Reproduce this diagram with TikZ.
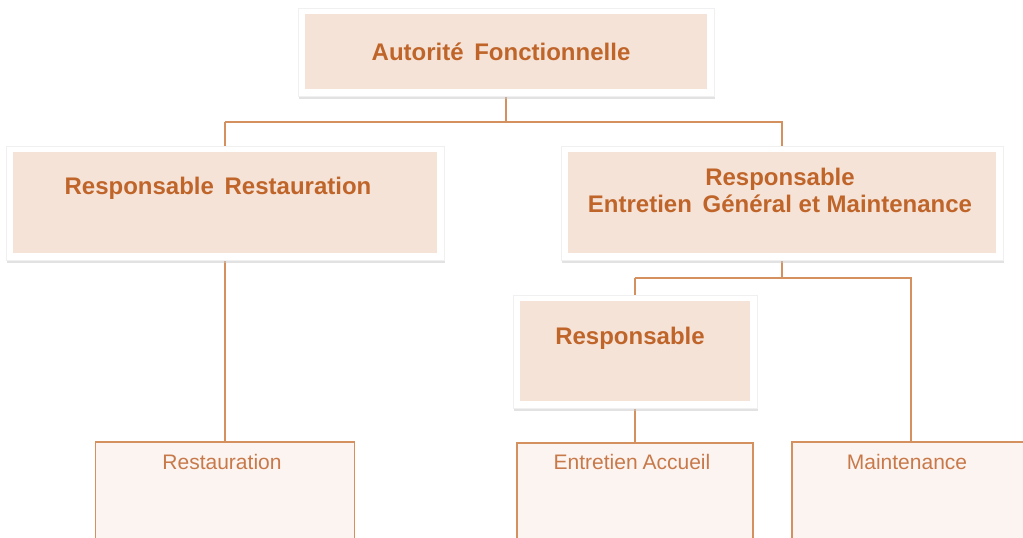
\documentclass[tikz,border=0pt]{standalone}
\usepackage{fontspec}
\setmainfont{Liberation Sans}
\usetikzlibrary{shadows,backgrounds}
\definecolor{txt}{HTML}{C0652A}
\definecolor{txtlight}{HTML}{C8794A}
\definecolor{peach}{HTML}{F5E3D8}
\definecolor{pale}{HTML}{FCF4F0}
\definecolor{edge}{HTML}{D4915F}
\begin{document}
\begin{tikzpicture}[x=1pt,y=-1pt,
  topbox/.style={rectangle, inner sep=0pt, fill=white, draw=black!6, line width=0.6pt,
    drop shadow={shadow xshift=0.8pt, shadow yshift=-3pt, fill=black!22, opacity=0.5},
    path picture={\fill[peach] ([shift={(7pt,-6pt)}]path picture bounding box.north west)
      rectangle ([shift={(-7pt,7pt)}]path picture bounding box.south east);}},
  lowbox/.style={rectangle, inner sep=0pt, fill=pale, draw=edge, line width=1.6pt},
  title/.style={font=\fontsize{24}{28}\selectfont\bfseries, text=txt, inner sep=0pt, align=center},
  plain/.style={font=\fontsize{21}{25}\selectfont, text=txtlight, inner sep=0pt},
  link/.style={draw=edge, line width=1.8pt}]
\useasboundingbox (0,0) rectangle (1023,538);
% boxes
\node[topbox, minimum width=416pt, minimum height=88pt] (A) at (506,52) {};
\node[topbox, minimum width=438pt, minimum height=114pt] (RR) at (225,203) {};
\node[topbox, minimum width=442pt, minimum height=114pt] (RE) at (782,203) {};
\node[topbox, minimum width=244pt, minimum height=113pt] (R) at (635,351.5) {};
\node[lowbox, minimum width=259pt, minimum height=140pt, anchor=north] (BR) at (225,441) {};
\node[lowbox, minimum width=236pt, minimum height=140pt, anchor=north] (BE) at (635,442) {};
\node[lowbox, minimum width=260pt, minimum height=140pt, anchor=north west] (BM) at (791,441) {};
% texts
\node[title] (tA) at (501,52) {Autorité\, Fonctionnelle};
\node[title] (tRR) at (218,188) {Responsable\, Restauration};
\node[title] (tRE) at (780,190) {Responsable\\[-1pt]Entretien\, Général et Maintenance};
\node[title] (tR) at (630,338) {Responsable};
\node[plain] (tBR) at (222,462) {Restauration};
\node[plain] (tBE) at (632,462) {Entretien\kern-1pt\ Accueil};
\node[plain] (tBM) at (907,462) {Maintenance};
% connectors
\coordinate (bus1) at (506,122);
\coordinate (bus2) at (782,278);
\begin{scope}[on background layer]
\fill[white] (0,0) rectangle (1023,538);
\draw[link] (A.south) -- (A.south |- bus1);
\draw[link] (RR.north |- bus1) -| (RR.north);
\draw[link] (RR.north |- bus1) -- (RE.north |- bus1) -- (RE.north);
\draw[link] (RR.south) -- (BR.north);
\draw[link] (RE.south) -- (RE.south |- bus2);
\draw[link] (R.north |- bus2) -- (R.north);
\draw[link] (R.north |- bus2) -- (911,278) -- (911,441);
\draw[link] (R.south) -- (BE.north);
\end{scope}
\end{tikzpicture}
\end{document}
